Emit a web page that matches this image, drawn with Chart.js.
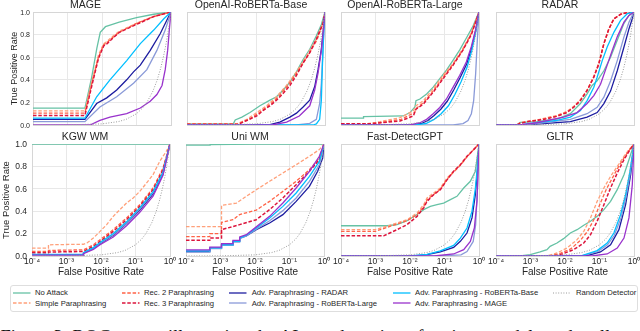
<!DOCTYPE html>
<html>
<head>
<meta charset="utf-8">
<script src="https://cdn.jsdelivr.net/npm/chart.js@4.4.1/dist/chart.umd.min.js"></script>
<style>
  body { margin: 0; background: #fff; width: 640px; height: 331px; overflow: hidden; position: relative;
         font-family: "Liberation Sans", Arial, sans-serif; color: #262626; }
  .panel { position: absolute; z-index: 1; }
  .ytick { position: absolute; z-index: 5; text-align: right; width: 16px; white-space: nowrap; color: #262626; }
  .legend-box { position: absolute; left: 9.5px; top: 284.5px; width: 626px; height: 25px;
                border: 1px solid #dedede; border-radius: 3px; }
  .legend-text { position: absolute; font-size: 7.7px; line-height: 9px; white-space: nowrap; color: #262626; }
  .legend-line { position: absolute; width: 18px; height: 6px; }
  .caption { position: absolute; left: 0.5px; top: 328px; font-family: "Liberation Serif", "Times New Roman", serif;
             font-size: 18.5px; line-height: 18px; white-space: nowrap; color: #111; }
</style>
</head>
<body>
<div class="legend-box"></div>
<div class="caption">Figure 3: ROC curves illustrating the AI text detection of various models under all attack settings.</div>
<script>
// series, in legend order
const seriesNames = ['No Attack', 'Simple Paraphrasing', 'Rec. 2 Paraphrasing', 'Rec. 3 Paraphrasing',
  'Adv. Paraphrasing - RADAR', 'Adv. Paraphrasing - RoBERTa-Large', 'Adv. Paraphrasing - RoBERTa-Base',
  'Adv. Paraphrasing - MAGE', 'Random Detector'];
const seriesColors = ['#66c2a5', '#ffa07a', '#ff6347', '#dc143c', '#1c1ca0', '#8a9ad8', '#00bfff', '#9932cc', '#9a9a9a'];
const seriesDash = [[], [3.5, 1.8], [3.5, 1.8], [3.5, 1.8], [], [], [], [], [1, 1.6]];

const panelTitles = ['MAGE', 'OpenAI-RoBERTa-Base', 'OpenAI-RoBERTa-Large', 'RADAR',
  'KGW WM', 'Uni WM', 'Fast-DetectGPT', 'GLTR'];

const xTickValues = [1e-4, 1e-3, 1e-2, 1e-1, 1];
const xTickLabels = ['10⁻⁴', '10⁻³', '10⁻²', '10⁻¹', '10⁰'];
const yTickValues = [0, 0.2, 0.4, 0.6, 0.8, 1];
const yTickLabels = ['0.0', '0.2', '0.4', '0.6', '0.8', '1.0'];

// diagonal of a random detector
const randomFpr = [1e-4, 0.001, 0.01, 0.03, 0.05, 0.1, 0.15, 0.2, 0.3, 0.4, 0.5, 0.6, 0.7, 0.8, 0.9, 1];
const randomTpr = [1e-4, 0.001, 0.01, 0.03, 0.05, 0.1, 0.15, 0.2, 0.3, 0.4, 0.5, 0.6, 0.7, 0.8, 0.9, 1];

// each panel: [fpr, tpr] points per series (order of seriesNames, without random)
const mageCurves = [
  [[1e-4,0.15],[0.0032,0.15],[0.005,0.42],[0.0071,0.68],[0.0089,0.82],[0.0126,0.87],[0.02,0.89],[0.0316,0.91],[0.1,0.95],[0.316,0.98],[1,1]],
  [[1e-4,0.125],[0.0032,0.125],[0.005,0.38],[0.0079,0.62],[0.0112,0.72],[0.0141,0.74],[0.0178,0.77],[0.0316,0.83],[0.1,0.9],[0.316,0.96],[1,1]],
  [[1e-4,0.105],[0.0032,0.105],[0.005,0.36],[0.0079,0.6],[0.0112,0.71],[0.0141,0.73],[0.0178,0.76],[0.0316,0.82],[0.1,0.9],[0.316,0.96],[1,1]],
  [[1e-4,0.085],[0.0032,0.085],[0.005,0.34],[0.0079,0.59],[0.0112,0.7],[0.0141,0.72],[0.0178,0.75],[0.0316,0.82],[0.1,0.89],[0.316,0.96],[1,1]],
  [[1e-4,0.05],[0.0032,0.05],[0.007,0.19],[0.0137,0.24],[0.0267,0.31],[0.052,0.4],[0.082,0.47],[0.129,0.53],[0.25,0.66],[0.49,0.81],[0.855,0.96],[1,1]],
  [[1e-4,0.03],[0.0032,0.03],[0.0087,0.16],[0.0267,0.25],[0.082,0.37],[0.2,0.49],[0.39,0.66],[0.68,0.84],[1,1]],
  [[1e-4,0.06],[0.0032,0.06],[0.007,0.25],[0.017,0.4],[0.052,0.57],[0.129,0.72],[0.316,0.84],[0.62,0.94],[1,1]],
  [[1e-4,0],[0.0045,0],[0.0087,0.04],[0.017,0.07],[0.052,0.1],[0.129,0.15],[0.25,0.21],[0.39,0.27],[0.55,0.35],[0.68,0.49],[0.8,0.66],[0.91,0.87],[1,1]]
];

const robertaBaseCurves = [
  [[1e-4,0.01],[0.0022,0.01],[0.0025,0.045],[0.0039,0.07],[0.0067,0.11],[0.013,0.17],[0.0254,0.22],[0.0394,0.25],[0.0616,0.31],[0.096,0.38],[0.149,0.47],[0.232,0.58],[0.361,0.67],[0.562,0.79],[0.784,0.89],[1,1]],
  [[1e-4,0.01],[0.0028,0.01],[0.0054,0.05],[0.0105,0.11],[0.0203,0.17],[0.0394,0.25],[0.0767,0.35],[0.149,0.47],[0.29,0.61],[0.562,0.76],[0.875,0.9],[1,1]],
  [[1e-4,0.01],[0.003,0.01],[0.0063,0.05],[0.0125,0.11],[0.025,0.18],[0.045,0.25],[0.085,0.35],[0.16,0.47],[0.3,0.6],[0.58,0.75],[0.88,0.9],[1,1]],
  [[1e-4,0.005],[0.003,0.005],[0.0054,0.04],[0.0105,0.08],[0.0163,0.13],[0.0254,0.17],[0.0394,0.22],[0.0616,0.28],[0.096,0.35],[0.149,0.44],[0.232,0.55],[0.361,0.64],[0.562,0.76],[0.875,0.9],[1,1]],
  [[1e-4,0],[0.0254,0.003],[0.049,0.025],[0.096,0.07],[0.149,0.105],[0.232,0.16],[0.361,0.22],[0.503,0.34],[0.628,0.49],[0.784,0.67],[0.916,0.87],[1,1]],
  [[1e-4,0],[0.15,0],[0.361,0.015],[0.562,0.05],[0.7,0.19],[0.784,0.37],[0.875,0.67],[1,1]],
  [[1e-4,0],[0.45,0],[0.562,0.01],[0.7,0.05],[0.784,0.22],[0.84,0.52],[0.916,0.82],[1,1]],
  [[1e-4,0],[0.03,0],[0.077,0.025],[0.18,0.08],[0.361,0.17],[0.503,0.31],[0.628,0.46],[0.784,0.66],[0.916,0.87],[1,1]]
];

const robertaLargeCurves = [
  [[1e-4,0.06],[0.00045,0.06],[0.00045,0.075],[0.0064,0.08],[0.01,0.11],[0.0139,0.16],[0.0149,0.215],[0.0194,0.23],[0.0303,0.275],[0.047,0.335],[0.073,0.41],[0.114,0.485],[0.178,0.575],[0.277,0.665],[0.431,0.77],[0.671,0.875],[1,1]],
  [[1e-4,0.01],[0.00056,0.01],[0.00136,0.03],[0.00515,0.065],[0.0125,0.125],[0.0149,0.17],[0.0243,0.215],[0.047,0.32],[0.0916,0.44],[0.178,0.545],[0.345,0.68],[0.601,0.815],[1,1]],
  [[1e-4,0.008],[0.0007,0.01],[0.0016,0.025],[0.0055,0.05],[0.0135,0.11],[0.0155,0.15],[0.025,0.2],[0.05,0.31],[0.095,0.43],[0.18,0.54],[0.35,0.67],[0.6,0.81],[1,1]],
  [[1e-4,0.012],[0.0008,0.012],[0.00515,0.035],[0.0125,0.08],[0.0149,0.14],[0.0243,0.185],[0.047,0.29],[0.0916,0.41],[0.178,0.53],[0.345,0.665],[0.601,0.8],[1,1]],
  [[1e-4,0],[0.012,0],[0.022,0.015],[0.033,0.04],[0.05,0.085],[0.078,0.14],[0.12,0.21],[0.185,0.31],[0.285,0.42],[0.44,0.54],[0.61,0.68],[0.8,0.835],[1,1]],
  [[1e-4,0],[0.178,0],[0.345,0.012],[0.48,0.04],[0.601,0.1],[0.7,0.215],[0.8,0.455],[0.895,0.755],[1,1]],
  [[1e-4,0],[0.015,0],[0.03,0.015],[0.05,0.05],[0.08,0.1],[0.13,0.17],[0.2,0.27],[0.3,0.38],[0.45,0.51],[0.62,0.66],[0.8,0.82],[1,1]],
  [[1e-4,0],[0.01,0],[0.0194,0.02],[0.0303,0.05],[0.047,0.1],[0.073,0.155],[0.114,0.23],[0.178,0.335],[0.277,0.44],[0.431,0.56],[0.601,0.695],[0.8,0.845],[1,1]]
];

const radarCurves = [
  [[1e-4,0],[0.0004,0],[0.0005,0.024],[0.00153,0.03],[0.00585,0.053],[0.0143,0.1],[0.028,0.19],[0.0437,0.275],[0.061,0.35],[0.0855,0.39],[0.134,0.48],[0.209,0.6],[0.327,0.75],[0.512,0.9],[0.714,0.97],[1,1]],
  [[1e-4,0],[0.0004,0],[0.0005,0.02],[0.00087,0.035],[0.00153,0.045],[0.003,0.065],[0.00585,0.085],[0.0114,0.12],[0.0179,0.165],[0.028,0.225],[0.0437,0.31],[0.0684,0.43],[0.0957,0.55],[0.134,0.72],[0.187,0.85],[0.261,0.94],[0.409,0.98],[0.64,0.995],[1,1]],
  [[1e-4,0],[0.0004,0],[0.0005,0.018],[0.00087,0.032],[0.00153,0.042],[0.003,0.06],[0.00585,0.08],[0.0114,0.115],[0.0179,0.16],[0.028,0.22],[0.0437,0.307],[0.0684,0.426],[0.0957,0.545],[0.134,0.72],[0.187,0.85],[0.261,0.94],[0.409,0.98],[0.64,0.995],[1,1]],
  [[1e-4,0],[0.0004,0],[0.0005,0.015],[0.00087,0.03],[0.00153,0.04],[0.003,0.055],[0.00585,0.077],[0.0114,0.11],[0.0179,0.157],[0.028,0.216],[0.0437,0.305],[0.0684,0.423],[0.0957,0.54],[0.134,0.72],[0.187,0.85],[0.261,0.94],[0.409,0.98],[0.64,0.995],[1,1]],
  [[1e-4,0],[0.001,0],[0.00153,0.008],[0.0143,0.03],[0.0437,0.07],[0.0855,0.11],[0.134,0.19],[0.209,0.3],[0.327,0.48],[0.512,0.69],[0.714,0.85],[0.89,0.94],[1,1]],
  [[1e-4,0],[0.0005,0],[0.00153,0.012],[0.0143,0.05],[0.0437,0.1],[0.0855,0.157],[0.134,0.246],[0.209,0.39],[0.327,0.57],[0.512,0.78],[0.714,0.91],[0.89,0.97],[1,1]],
  [[1e-4,0],[0.0005,0],[0.00098,0.015],[0.00585,0.04],[0.0143,0.07],[0.028,0.127],[0.0437,0.216],[0.0684,0.334],[0.0855,0.423],[0.12,0.57],[0.167,0.69],[0.261,0.82],[0.409,0.926],[0.64,0.985],[1,1]],
  [[1e-4,0],[0.0005,0],[0.00153,0.02],[0.0091,0.07],[0.0224,0.11],[0.0437,0.19],[0.0684,0.26],[0.107,0.36],[0.167,0.53],[0.234,0.66],[0.327,0.78],[0.512,0.91],[0.714,0.97],[1,1]]
];

const kgwCurves = [
  [[1e-4,1],[1,1]],
  [[1e-4,0.071],[0.0003,0.071],[0.0003,0.1],[0.0031,0.105],[0.0039,0.116],[0.006,0.16],[0.0094,0.22],[0.0146,0.28],[0.0227,0.354],[0.0353,0.414],[0.055,0.473],[0.0857,0.518],[0.133,0.577],[0.207,0.65],[0.323,0.726],[0.503,0.845],[0.784,0.935],[1,1]],
  [[1e-4,0.042],[0.0003,0.042],[0.0003,0.05],[0.0031,0.055],[0.006,0.1],[0.0094,0.146],[0.0227,0.235],[0.055,0.34],[0.133,0.458],[0.323,0.607],[0.628,0.786],[1,1]],
  [[1e-4,0.03],[0.0003,0.03],[0.0003,0.035],[0.0031,0.04],[0.006,0.086],[0.0094,0.13],[0.0227,0.22],[0.055,0.324],[0.133,0.443],[0.323,0.592],[0.628,0.77],[1,1]],
  [[1e-4,0.012],[0.0031,0.012],[0.0031,0.025],[0.006,0.065],[0.0094,0.11],[0.0227,0.185],[0.055,0.29],[0.133,0.41],[0.323,0.555],[0.628,0.735],[1,1]],
  [[1e-4,0.012],[0.0031,0.012],[0.0031,0.028],[0.006,0.07],[0.0094,0.115],[0.0227,0.19],[0.055,0.295],[0.133,0.42],[0.323,0.565],[0.628,0.74],[1,1]],
  [[1e-4,0.015],[0.0031,0.015],[0.0031,0.03],[0.006,0.075],[0.0094,0.12],[0.0227,0.2],[0.055,0.305],[0.133,0.43],[0.323,0.575],[0.628,0.75],[1,1]],
  [[1e-4,0.008],[0.0031,0.008],[0.0031,0.02],[0.006,0.058],[0.0094,0.1],[0.0227,0.17],[0.055,0.27],[0.133,0.39],[0.323,0.535],[0.628,0.72],[1,1]]
];

const uniCurves = [
  [[1e-4,0.99],[0.0005,0.99],[0.0005,0.995],[0.01,0.998],[1,1]],
  [[1e-4,0.262],[0.00107,0.262],[0.00107,0.452],[0.0029,0.473],[0.0056,0.533],[0.0109,0.592],[0.0265,0.667],[0.0643,0.741],[0.156,0.815],[0.378,0.89],[0.733,0.95],[1,1]],
  [[1e-4,0.173],[0.00049,0.173],[0.00049,0.2],[0.00107,0.2],[0.00107,0.3],[0.0023,0.324],[0.0036,0.37],[0.0109,0.41],[0.0265,0.488],[0.0643,0.577],[0.156,0.667],[0.378,0.77],[0.733,0.875],[1,1]],
  [[1e-4,0.14],[0.00049,0.14],[0.00049,0.16],[0.00107,0.16],[0.00107,0.235],[0.0036,0.28],[0.0109,0.324],[0.0265,0.414],[0.0643,0.518],[0.156,0.637],[0.378,0.756],[0.733,0.86],[1,1]],
  [[1e-4,0.04],[0.00049,0.04],[0.00049,0.07],[0.00107,0.07],[0.00107,0.1],[0.0023,0.1],[0.0023,0.13],[0.0036,0.13],[0.0036,0.16],[0.0056,0.18],[0.0109,0.235],[0.0265,0.295],[0.0643,0.369],[0.156,0.488],[0.378,0.622],[0.656,0.756],[0.916,0.875],[1,1]],
  [[1e-4,0.035],[0.00049,0.035],[0.00049,0.065],[0.00107,0.065],[0.00107,0.095],[0.0023,0.095],[0.0023,0.125],[0.0036,0.125],[0.0036,0.155],[0.0056,0.18],[0.0109,0.24],[0.0265,0.315],[0.0643,0.405],[0.156,0.518],[0.378,0.667],[0.733,0.815],[1,1]],
  [[1e-4,0.045],[0.00049,0.045],[0.00049,0.072],[0.00107,0.072],[0.00107,0.1],[0.0023,0.1],[0.0023,0.13],[0.0036,0.13],[0.0036,0.16],[0.0056,0.185],[0.0109,0.25],[0.0265,0.34],[0.0643,0.443],[0.156,0.563],[0.378,0.711],[0.733,0.845],[1,1]],
  [[1e-4,0.055],[0.00049,0.055],[0.00049,0.08],[0.00107,0.08],[0.00107,0.11],[0.0023,0.11],[0.0023,0.14],[0.0036,0.14],[0.0036,0.17],[0.0056,0.19],[0.0109,0.26],[0.0265,0.354],[0.0643,0.473],[0.156,0.607],[0.378,0.756],[0.733,0.89],[1,1]]
];

const fastDetectCurves = [
  [[1e-4,0.27],[0.00215,0.27],[0.0042,0.28],[0.0082,0.315],[0.016,0.37],[0.0249,0.414],[0.0388,0.443],[0.0607,0.458],[0.0946,0.473],[0.148,0.503],[0.23,0.533],[0.36,0.607],[0.561,0.667],[0.783,0.756],[1,1]],
  [[1e-4,0.235],[0.00099,0.235],[0.00215,0.265],[0.0042,0.295],[0.0082,0.324],[0.016,0.384],[0.0249,0.458],[0.0311,0.518],[0.0485,0.563],[0.0757,0.607],[0.118,0.696],[0.184,0.756],[0.288,0.815],[0.449,0.89],[0.7,0.95],[1,1]],
  [[1e-4,0.22],[0.00099,0.22],[0.00215,0.255],[0.0042,0.285],[0.0082,0.315],[0.016,0.37],[0.0249,0.44],[0.0311,0.5],[0.0485,0.55],[0.0757,0.595],[0.118,0.685],[0.184,0.75],[0.288,0.81],[0.449,0.885],[0.7,0.95],[1,1]],
  [[1e-4,0.18],[0.00172,0.18],[0.0042,0.235],[0.0082,0.28],[0.016,0.354],[0.0249,0.43],[0.0311,0.488],[0.0485,0.548],[0.0757,0.592],[0.118,0.68],[0.184,0.756],[0.288,0.815],[0.449,0.89],[0.7,0.95],[1,1]],
  [[1e-4,0],[0.0128,0],[0.0311,0.012],[0.0757,0.036],[0.184,0.077],[0.288,0.131],[0.449,0.205],[0.627,0.34],[0.783,0.548],[0.914,0.786],[1,1]],
  [[1e-4,0],[0.06,0],[0.3,0.01],[0.449,0.04],[0.68,0.13],[0.8,0.28],[0.914,0.64],[1,1]],
  [[1e-4,0],[0.01,0],[0.0311,0.015],[0.0757,0.045],[0.184,0.095],[0.288,0.16],[0.449,0.25],[0.627,0.4],[0.783,0.6],[0.914,0.82],[1,1]],
  [[1e-4,0],[0.05,0],[0.184,0.018],[0.36,0.057],[0.561,0.13],[0.733,0.25],[0.875,0.49],[1,1]]
];

const gltrCurves = [
  [[1e-4,0],[0.0005,0],[0.00098,0.012],[0.0019,0.036],[0.003,0.057],[0.0037,0.086],[0.00585,0.116],[0.0091,0.155],[0.0143,0.205],[0.0224,0.235],[0.035,0.274],[0.0547,0.31],[0.0855,0.354],[0.134,0.414],[0.209,0.488],[0.327,0.592],[0.512,0.726],[0.714,0.86],[1,1]],
  [[1e-4,0],[0.003,0],[0.00585,0.027],[0.0114,0.071],[0.0224,0.146],[0.035,0.22],[0.0547,0.339],[0.0855,0.488],[0.134,0.607],[0.209,0.711],[0.327,0.8],[0.512,0.89],[0.714,0.95],[1,1]],
  [[1e-4,0],[0.0037,0],[0.0075,0.025],[0.015,0.065],[0.028,0.14],[0.045,0.22],[0.07,0.33],[0.105,0.47],[0.16,0.6],[0.24,0.7],[0.36,0.8],[0.55,0.89],[0.75,0.95],[1,1]],
  [[1e-4,0],[0.0045,0],[0.0073,0.012],[0.0179,0.057],[0.035,0.116],[0.0547,0.19],[0.0855,0.31],[0.134,0.458],[0.209,0.607],[0.327,0.741],[0.512,0.86],[0.714,0.935],[1,1]],
  [[1e-4,0],[0.04,0],[0.107,0.036],[0.209,0.1],[0.366,0.235],[0.571,0.458],[0.8,0.726],[1,1]],
  [[1e-4,0],[0.03,0],[0.09,0.04],[0.17,0.1],[0.27,0.185],[0.42,0.34],[0.58,0.52],[0.77,0.73],[1,1]],
  [[1e-4,0],[0.028,0],[0.0855,0.048],[0.167,0.116],[0.261,0.205],[0.409,0.369],[0.571,0.548],[0.764,0.756],[1,1]],
  [[1e-4,0],[0.06,0],[0.167,0.018],[0.327,0.071],[0.512,0.16],[0.714,0.34],[0.893,0.637],[1,1]]
];

const panelCurves = [mageCurves, robertaBaseCurves, robertaLargeCurves, radarCurves,
  kgwCurves, uniCurves, fastDetectCurves, gltrCurves];

// layout of the 2x4 grid (plot area left edges, in page px)
const plotLefts = [[33, 187, 341, 496], [32, 186, 341, 496]];
const plotWidth = 138;
const fontFamily = '"Liberation Sans", Arial, sans-serif';
const textColor = '#262626';
const gridColor = '#e8e8e8';

// light frame around each plot area
const framePlugin = {
  id: 'frame',
  beforeDatasetsDraw(chart) {
    const { ctx, chartArea: a } = chart;
    ctx.save();
    ctx.strokeStyle = '#d6d6d6';
    ctx.lineWidth = 1;
    ctx.strokeRect(Math.round(a.left) + 0.5, Math.round(a.top) + 0.5,
      Math.round(a.right - a.left), Math.round(a.bottom - a.top));
    ctx.restore();
  }
};

function makePanel(idx) {
  const row = idx < 4 ? 0 : 1;
  const col = idx % 4;
  const first = col === 0;
  const bottom = row === 1;
  const plotLeft = plotLefts[row][col];
  const yw = first ? plotLeft : 10;
  const w = yw + plotWidth + 8;
  const h = row === 0 ? 130 : 148;
  const top = row === 0 ? 0 : 132;

  const div = document.createElement('div');
  div.className = 'panel';
  div.style.left = (plotLeft - yw) + 'px';
  div.style.top = top + 'px';
  const cv = document.createElement('canvas');
  cv.width = w;
  cv.height = h;
  div.appendChild(cv);
  document.body.appendChild(div);

  const datasets = panelCurves[idx].map((pts, k) => ({
    label: seriesNames[k],
    data: pts.map(p => ({ x: p[0], y: p[1] })),
    borderColor: seriesColors[k],
    borderDash: seriesDash[k],
    borderWidth: k === 3 ? 1.5 : 1.3,
    pointRadius: 0,
    fill: false,
    tension: 0,
    order: 9 - k
  }));
  datasets.push({
    label: seriesNames[8],
    data: randomFpr.map((v, i) => ({ x: v, y: randomTpr[i] })),
    borderColor: seriesColors[8],
    borderDash: seriesDash[8],
    borderWidth: 1,
    pointRadius: 0,
    fill: false,
    tension: 0,
    order: 0
  });

  const chart = new Chart(cv, {
    type: 'line',
    data: { datasets },
    plugins: [framePlugin],
    options: {
      responsive: false,
      animation: false,
      events: [],
      layout: { padding: { left: 0, right: 8, top: 0, bottom: 0 } },
      plugins: {
        legend: { display: false },
        tooltip: { enabled: false },
        title: {
          display: true,
          text: panelTitles[idx],
          color: textColor,
          font: { family: fontFamily, size: 10.5, weight: 'normal', lineHeight: 1 },
          padding: { top: 0, bottom: 1.5 }
        }
      },
      scales: {
        x: {
          type: 'logarithmic',
          min: 1e-4,
          max: 1,
          afterBuildTicks: s => { s.ticks = xTickValues.map(v => ({ value: v })); },
          afterFit: s => { s.height = bottom ? 24 : 5; },
          grid: { color: gridColor, drawTicks: false },
          border: { display: false },
          ticks: {
            display: bottom,
            autoSkip: false,
            maxRotation: 0,
            padding: 1,
            color: textColor,
            font: { family: fontFamily, size: 8.5 },
            callback: v => xTickLabels[xTickValues.indexOf(v)]
          },
          title: {
            display: bottom,
            text: 'False Positive Rate',
            color: textColor,
            font: { family: fontFamily, size: 10 },
            padding: { top: 0, bottom: 2 }
          }
        },
        y: {
          type: 'linear',
          min: 0,
          max: 1,
          afterBuildTicks: s => { s.ticks = yTickValues.map(v => ({ value: v })); },
          afterFit: s => { s.width = yw; },
          grid: { color: gridColor, drawTicks: false },
          border: { display: false },
          ticks: { display: false },
          title: {
            display: first,
            text: 'True Positive Rate',
            color: textColor,
            font: { family: fontFamily, size: row === 0 ? 9 : 9.5 },
            padding: { top: row === 0 ? 9.6 : 1, bottom: 0 }
          }
        }
      }
    }
  });

  // y tick labels of the first column, placed along the y axis range of the plot area
  if (first) {
    const a = chart.chartArea;
    const size = row === 0 ? 7 : 8.5;
    const gap = row === 0 ? 3 : 5;
    yTickValues.forEach((v, i) => {
      const py = a.bottom - v * (a.bottom - a.top);
      const t = document.createElement('div');
      t.className = 'ytick';
      t.textContent = yTickLabels[i];
      t.style.fontSize = size + 'px';
      t.style.lineHeight = size + 'px';
      t.style.left = (plotLeft - gap - 16) + 'px';
      t.style.top = (top + py - size / 2) + 'px';
      document.body.appendChild(t);
    });
  }
}

for (let i = 0; i < 8; i++) makePanel(i);

// legend, matplotlib style: 5 columns filled top to bottom
const legendLineX = [12.7, 121.7, 229, 393, 553];
const legendTextX = [35, 144, 251.7, 415, 576];
const legendRowY = [292.7, 303.3];
seriesNames.forEach((name, k) => {
  const c = Math.floor(k / 2), r = k % 2;
  const svgNS = 'http://www.w3.org/2000/svg';
  const svg = document.createElementNS(svgNS, 'svg');
  svg.setAttribute('class', 'legend-line');
  svg.setAttribute('width', '18');
  svg.setAttribute('height', '6');
  svg.style.left = legendLineX[c] + 'px';
  svg.style.top = (legendRowY[r] - 3) + 'px';
  const line = document.createElementNS(svgNS, 'line');
  line.setAttribute('x1', '0'); line.setAttribute('x2', '17.5');
  line.setAttribute('y1', '3'); line.setAttribute('y2', '3');
  line.setAttribute('stroke', seriesColors[k]);
  line.setAttribute('stroke-width', k === 8 ? '1' : '1.3');
  if (seriesDash[k].length) line.setAttribute('stroke-dasharray', seriesDash[k].join(' '));
  svg.appendChild(line);
  document.body.appendChild(svg);

  const t = document.createElement('div');
  t.className = 'legend-text';
  t.textContent = name;
  t.style.left = legendTextX[c] + 'px';
  t.style.top = (legendRowY[r] - 4.5) + 'px';
  document.body.appendChild(t);
});
</script>
</body>
</html>
